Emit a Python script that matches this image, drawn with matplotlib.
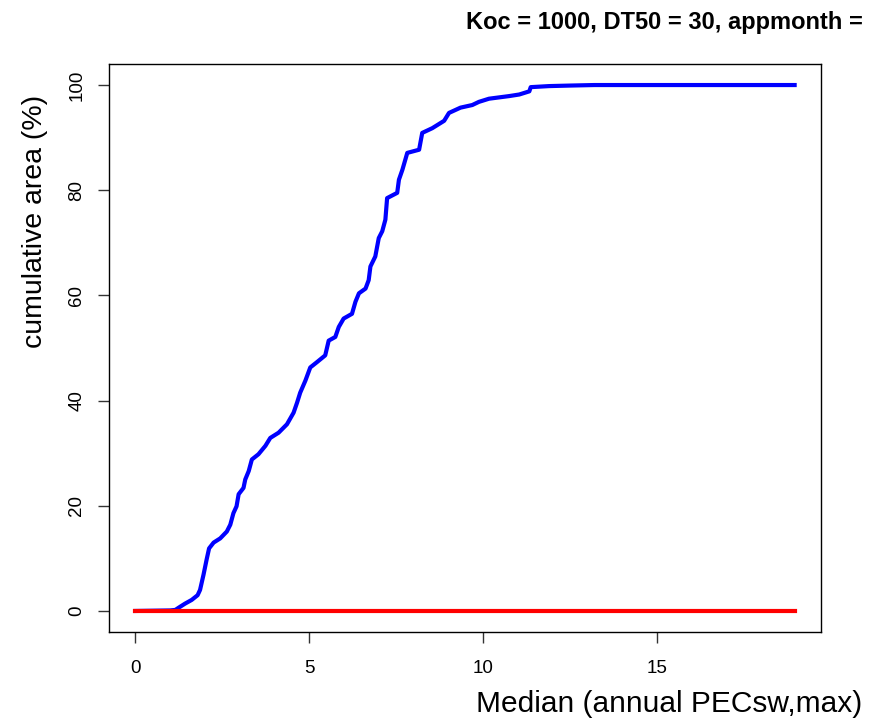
import matplotlib
matplotlib.use("Agg")
import matplotlib.pyplot as plt

# Data
blue_x = [0, 1.0, 1.15, 1.24, 1.43, 1.62, 1.79, 1.86, 1.96, 2.05, 2.12, 2.25, 2.44, 2.63,
          2.73, 2.82, 2.91, 2.97, 3.11, 3.16, 3.26, 3.35, 3.54, 3.74, 3.88, 4.12, 4.36,
          4.55, 4.65, 4.74, 4.89, 5.03, 5.22, 5.46, 5.56, 5.75, 5.85, 5.99, 6.23, 6.33,
          6.43, 6.62, 6.71, 6.76, 6.9, 7.0, 7.1, 7.19, 7.24, 7.53, 7.58, 7.68, 7.82,
          8.16, 8.25, 8.54, 8.88, 9.02, 9.35, 9.69, 9.88, 10.17, 10.75, 11.04, 11.33,
          11.37, 11.9, 12.5, 13.2, 18.96]
blue_y = [0, 0.1, 0.2, 0.6, 1.4, 2.1, 3.0, 4.0, 6.9, 9.8, 11.9, 13.0, 13.8, 15.1,
          16.4, 18.6, 19.9, 22.2, 23.4, 25.0, 26.6, 28.8, 29.8, 31.4, 32.9, 33.9, 35.5,
          37.7, 39.6, 41.5, 43.8, 46.3, 47.3, 48.6, 51.4, 52.1, 54.0, 55.6, 56.5, 58.8,
          60.4, 61.3, 62.9, 65.5, 67.4, 70.9, 72.2, 74.4, 78.5, 79.5, 82.0, 83.9, 87.1,
          87.7, 90.9, 91.8, 93.2, 94.7, 95.7, 96.2, 96.8, 97.4, 97.9, 98.2, 98.8,
          99.6, 99.8, 99.9, 100, 100]
red_x = [0, 18.96]
red_y = [0, 0]
x_ticks = [0, 5, 10, 15]
y_ticks = [0, 20, 40, 60, 80, 100]
title = "Koc = 1000, DT50 = 30, appmonth ="
xlabel = "Median (annual PECsw,max)"
ylabel = "cumulative area (%)"

plt.rcParams['font.family'] = ['Liberation Sans', 'DejaVu Sans']

fig = plt.figure(figsize=(8.78, 7.22), dpi=100)
ax = fig.add_axes([109/878, 1 - 632/722, (821 - 109)/878, (632 - 64)/722])

ax.plot(blue_x, blue_y, color='#0000ff', lw=3.0, solid_joinstyle='round')
ax.plot(red_x, red_y, color='#ff0000', lw=3.0)

xmax = max(blue_x)
ax.set_xlim(-0.04 * xmax, xmax * 1.04)
ax.set_ylim(-4, 104)
ax.set_xticks(x_ticks)
ax.set_yticks(y_ticks)
ax.set_xticklabels([str(t) for t in x_ticks], fontsize=13.5)
ax.set_yticklabels([str(t) for t in y_ticks], fontsize=13.5, rotation=90, va='center')
ax.tick_params(direction='out', length=8, width=1, color='#333333')
ax.tick_params(axis='x', pad=12)
ax.tick_params(axis='y', pad=9)
for s in ax.spines.values():
    s.set_linewidth(1.0)
    s.set_color('black')

fig.text(466/878, 1 - 22/722, title, ha='left', va='center', fontsize=17, fontweight='bold')
fig.text(862/878, 1 - 704/722, xlabel, ha='right', va='center', fontsize=21.5)
fig.text(35/878, 1 - 221/722, ylabel, ha='center', va='center', fontsize=20.5, rotation=90)

fig.savefig('out.png', dpi=100)
